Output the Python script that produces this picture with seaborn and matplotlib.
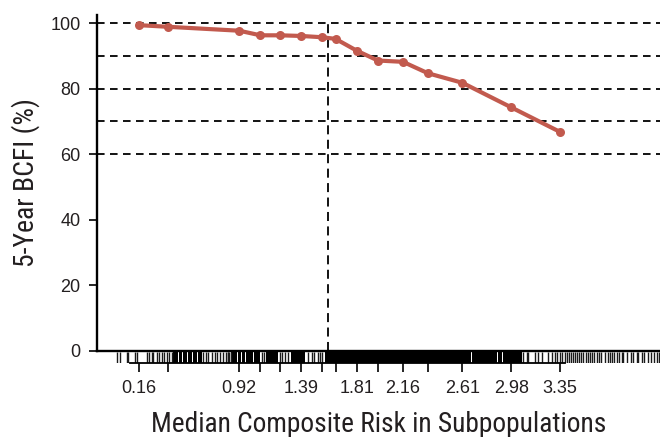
import os
import matplotlib
matplotlib.use("Agg")
import matplotlib.pyplot as plt
from matplotlib import font_manager as fm
import seaborn as sns
import numpy as np
import pandas as pd

# ---- data ----
risk = [0.16, 0.38, 0.92, 1.08, 1.23, 1.39, 1.55, 1.65, 1.81, 1.97, 2.16, 2.35, 2.61, 2.98, 3.35]
bcfi = [99.4, 98.9, 97.7, 96.3, 96.3, 96.1, 95.7, 95.2, 91.6, 88.6, 88.2, 84.7, 81.8, 74.3, 66.8]
tick_labels = ["0.16", "", "0.92", "", "", "1.39", "", "", "1.81", "", "2.16", "", "2.61", "2.98", "3.35"]
y_ticks = [0, 20, 40, 60, 80, 100]
ref_lines = [60, 70, 80, 90, 100]
cutoff = 1.59

# individual rug marks (sparse parts)
rug_lines = [-0.009, 0.016, 0.067, 0.079, 0.130, 0.147, 0.223, 0.238, 0.256, 0.268, 0.294,
             0.314, 0.332, 0.349, 0.370, 0.390, 0.408,
             0.647, 0.668, 0.685, 0.711, 0.736, 0.749, 0.774, 0.799, 0.819, 0.832, 0.836,
             0.844, 0.857, 1.090, 1.109, 1.228, 1.246, 1.266, 1.291,
             1.443, 1.468, 1.488, 1.514, 1.531, 1.549,
             3.071, 3.097, 3.109, 3.160, 3.185, 3.211, 3.261, 3.286, 3.311, 3.324, 3.349,
             3.362, 3.387, 3.400, 3.418, 3.433, 3.450, 3.463, 3.476, 3.493, 3.508, 3.526,
             3.544, 3.559, 3.577, 3.594, 3.609, 3.627, 3.645, 3.660, 3.690, 3.715, 3.728,
             3.746, 3.761, 3.779, 3.796, 3.817, 3.829, 3.855, 3.887, 3.905, 3.930, 3.942,
             3.968, 3.988, 4.018, 4.039, 4.064, 4.082, 4.099]
# dense parts of the rug (start, end)
rug_bands = [(0.420, 0.455), (0.461, 0.488), (0.494, 0.526), (0.532, 0.564), (0.570, 0.599),
             (0.605, 0.637), (0.860, 0.905), (0.911, 0.935), (0.941, 0.965), (0.971, 0.998),
             (1.004, 1.023), (1.029, 1.079), (1.125, 1.217), (1.315, 1.420),
             (1.568, 1.930), (1.936, 2.324), (2.330, 2.385), (2.391, 2.452), (2.458, 2.513),
             (2.519, 2.677), (2.683, 2.872), (2.878, 2.884), (2.890, 2.908), (2.914, 3.062)]

line_color = "#C25A4E"
text_color = "#231F20"


def pick_condensed():
    bad = ["bold", "italic", "oblique", "light", "thin", "black", "medium", "semi", "extra", "heavy"]
    prefs = ["liberationsansnarrow", "robotocondensed", "roboto_condensed", "notosans",
             "dejavusanscondensed", "opensans", "lato", "inter"]
    cands = []
    for f in fm.fontManager.ttflist:
        fn = os.path.basename(f.fname).lower()
        nm = f.name.lower()
        cond = ("narrow" in fn or "condensed" in fn or "narrow" in nm or "condensed" in nm)
        if not cond or f.style != "normal":
            continue
        if any(b in fn for b in bad):
            continue
        key = fn.replace("-", "").replace(" ", "")
        rank = len(prefs)
        for i, p in enumerate(prefs):
            if key.startswith(p):
                rank = i
                break
        cands.append((rank, f.fname))
    if not cands:
        return None
    cands.sort()
    return cands[0][1]


cond_file = pick_condensed()
if cond_file:
    label_font = fm.FontProperties(fname=cond_file)
else:
    label_font = fm.FontProperties(family=["Liberation Sans", "DejaVu Sans"])

sns.set_theme(style="ticks")
plt.rcParams["font.family"] = ["Liberation Sans", "DejaVu Sans"]

W, H = 660, 437
fig = plt.figure(figsize=(W / 100, H / 100), dpi=100)


def box(l, t, r, b):
    return [l / W, 1 - b / H, (r - l) / W, (b - t) / H]


ax = fig.add_axes(box(96.7, 15, 660, 350.7))
rax = fig.add_axes(box(96.7, 352, 660, 363.3))
xlim = (-0.16, 4.107)

# reference lines
for h in ref_lines:
    ax.axhline(h, color="black", lw=1.3, ls=(0, (4.2, 3)), zorder=1)
ax.vlines(cutoff, 0, 100.4, color="black", lw=1.3, ls=(0, (5, 3)), zorder=1)

df = pd.DataFrame({"risk": risk, "bcfi": bcfi})
sns.lineplot(data=df, x="risk", y="bcfi", ax=ax, color=line_color, lw=3.0,
             marker="o", markersize=6.5, markeredgewidth=0, zorder=3)

ax.set_xlim(*xlim)
ax.set_ylim(0, 102.5)
ax.set_yticks(y_ticks)
ax.tick_params(axis="y", direction="out", length=6, width=1.2, pad=5.5,
               labelsize=13, colors="black", labelcolor=text_color)
ax.tick_params(axis="x", bottom=False, labelbottom=False)
ax.set_xlabel("")
ax.set_ylabel("")
for s in ["top", "right"]:
    ax.spines[s].set_visible(False)
for s in ["left", "bottom"]:
    ax.spines[s].set_linewidth(1.7)
    ax.spines[s].set_color("black")

# rug
sns.rugplot(x=rug_lines, ax=rax, height=1, color="#1a1a1a", lw=1.1, expand_margins=False)
for a, b in rug_bands:
    rax.axvspan(a, b, color="black", lw=0)
rax.set_xlim(*xlim)
rax.set_ylim(0, 1)
rax.set_yticks([])
rax.set_xticks(risk, tick_labels)
rax.tick_params(axis="x", direction="out", length=6.5, width=1.2, pad=5.5,
                labelsize=13, colors="black", labelcolor=text_color)
for s in ["top", "right", "left"]:
    rax.spines[s].set_visible(False)
rax.spines["bottom"].set_bounds(0.09, 3.39)
rax.spines["bottom"].set_linewidth(1.3)
rax.spines["bottom"].set_color("black")
rax.set_facecolor("none")

xl = fig.text(379 / W, 1 - 431.5 / H, "Median Composite Risk in Subpopulations",
              ha="center", va="baseline", fontsize=20, color=text_color, fontproperties=label_font)
yl = fig.text(33.5 / W, 1 - 182.5 / H, "5-Year BCFI (%)", rotation=90, rotation_mode="anchor",
              ha="center", va="baseline", fontsize=20, color=text_color, fontproperties=label_font)
xl.set_fontsize(20)
yl.set_fontsize(20)

# fit label lengths to the reference (x label ~455 px wide, y label ~169 px tall)
fig.canvas.draw()
r = fig.canvas.get_renderer()
wx = xl.get_window_extent(r).width
xl.set_fontsize(20 * 455 / wx)
hy = yl.get_window_extent(r).height
yl.set_fontsize(20 * 169 / hy)

fig.savefig("out.png", dpi=100)
